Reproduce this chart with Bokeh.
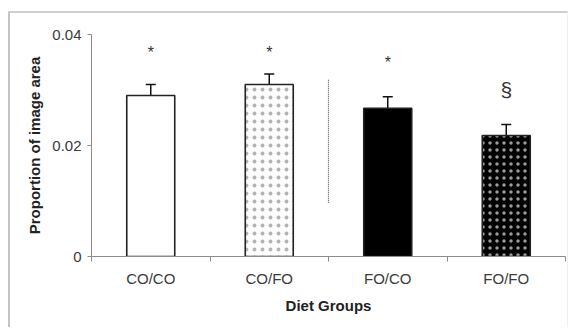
from bokeh.plotting import figure
from bokeh.models import (ColumnDataSource, Whisker, TeeHead, FixedTicker,
                          CustomJSTickFormatter, NumeralTickFormatter, Range1d)
from bokeh.core.properties import value
from bokeh.embed import file_html
from bokeh.resources import INLINE

# ---- data ----
groups = ["CO/CO", "CO/FO", "FO/CO", "FO/FO"]
means = [0.0290, 0.0310, 0.0267, 0.0218]
errors = [0.0020, 0.0019, 0.0021, 0.0020]
marks = ["*", "*", "*", "§"]
mark_y = [0.0367, 0.0367, 0.0349, 0.0301]
y_ticks = [0, 0.02, 0.04]
divider_x = 2
divider_y = [0.0097, 0.0319]

FONT = "Liberation Sans"

xs = [i + 0.5 for i in range(len(groups))]
fills = ["white", "white", "black", "black"]
hatches = [" ", "dot", " ", "dot"]
hatch_cols = ["#ffffff", "#b4b4b4", "#000000", "#9c9c9c"]
hatch_scales = [7, 8, 7, 7]
hatch_weights = [1, 0.7, 1, 1.0]
mark_sizes = ["16px", "16px", "16px", "21px"]

src = ColumnDataSource(dict(
    x=xs, top=means, fill=fills, hatch=hatches, hcol=hatch_cols, hs=hatch_scales,
    hw=hatch_weights,
    upper=[m + e for m, e in zip(means, errors)],
    lower=[m - e for m, e in zip(means, errors)],
))
msrc = ColumnDataSource(dict(x=xs, y=mark_y, text=marks, size=mark_sizes))

p = figure(width=560, height=316, output_backend="svg", toolbar_location=None,
           x_range=Range1d(0, 4), y_range=Range1d(0, 0.04),
           min_border_left=81, min_border_right=5, min_border_top=21,
           min_border_bottom=73)
p.margin = (11, 0, 0, 8)
p.styles = {"border-top": "2px solid #cfcfcf", "border-left": "2px solid #c4c4c4",
            "border-right": "1px solid #f0f0f0"}
p.outline_line_color = None
p.grid.visible = False
p.background_fill_color = "white"
p.border_fill_color = "white"

p.vbar(x="x", top="top", width=0.405, source=src, fill_color="fill",
       line_color="#222222", line_width=1.6, hatch_pattern="hatch",
       hatch_color="hcol", hatch_scale="hs", hatch_weight="hw")

w = Whisker(base="x", upper="upper", lower="lower", source=src,
            line_color="#111111", line_width=1.5,
            upper_head=TeeHead(size=10, line_color="#111111", line_width=1.5),
            lower_head=TeeHead(size=10, line_color="#111111", line_width=1.5))
p.add_layout(w)

p.text(x="x", y="y", text="text", source=msrc, text_align="center",
       text_baseline="middle", text_font=value(FONT), text_font_size="size",
       text_color="#333333")

p.line(x=[divider_x, divider_x], y=divider_y, line_color="#555555",
       line_width=1.2, line_dash="1 1")

# axes
xa = p.xaxis[0]
xa.ticker = FixedTicker(ticks=xs, minor_ticks=list(range(len(groups) + 1)))
xa.formatter = CustomJSTickFormatter(args=dict(labels=groups),
                                     code="return labels[index];")
xa.major_tick_out = 0
xa.major_tick_in = 0
xa.minor_tick_out = 5
xa.minor_tick_in = 0
xa.axis_label = "Diet Groups"

ya = p.yaxis[0]
ya.ticker = FixedTicker(ticks=y_ticks, minor_ticks=[])
ya.formatter = NumeralTickFormatter(format="0.[00]")
ya.major_tick_out = 4
ya.major_tick_in = 0
ya.axis_label = "Proportion of image area"

for ax in (xa, ya):
    ax.axis_line_color = "#8c8c8c"
    ax.major_tick_line_color = "#8c8c8c"
    ax.minor_tick_line_color = "#8c8c8c"
    ax.major_label_text_font = FONT
    ax.major_label_text_font_size = "15px"
    ax.major_label_text_color = "#3a3a3a"
    ax.axis_label_text_font = FONT
    ax.axis_label_text_font_size = "15px"
    ax.axis_label_text_font_style = "bold"
    ax.axis_label_text_color = "#222222"

xa.major_label_standoff = 8
xa.axis_label_standoff = 7
ya.major_label_standoff = 6
ya.axis_label_standoff = 6

open("out.html", "w").write(file_html(p, INLINE))
